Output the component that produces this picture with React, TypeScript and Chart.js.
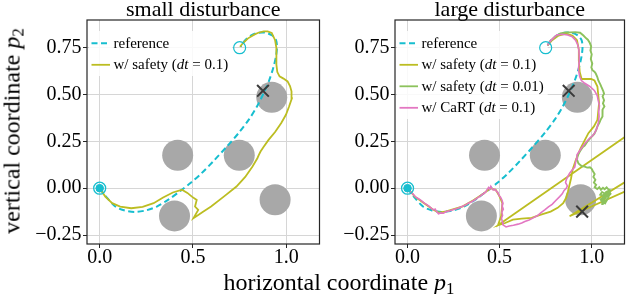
import React, { useEffect, useRef } from "react";
import { Chart, registerables } from "chart.js";

Chart.register(...registerables);

const FONT = "'Liberation Serif', 'Times New Roman', Times, serif";

// ---- axes ----
const X_MIN = -0.068;
const X_MAX = 1.178;
const Y_MIN = -0.298;
const Y_MAX = 0.898;
const X_TICKS = [0, 0.5, 1];
const X_TICK_LABELS = ["0.0", "0.5", "1.0"];
const Y_TICKS = [-0.25, 0, 0.25, 0.5, 0.75];
const Y_TICK_LABELS = ["\u22120.25", "0.00", "0.25", "0.50", "0.75"];

const TITLE_SMALL = "small disturbance";
const TITLE_LARGE = "large disturbance";
const X_LABEL = "horizontal coordinate";
const Y_LABEL = "vertical coordinate";

const LABEL_REF = "reference";
const LABEL_SAFE_01 = "w/ safety (dt = 0.1)";
const LABEL_SAFE_001 = "w/ safety (dt = 0.01)";
const LABEL_CART = "w/ CaRT (dt = 0.1)";

// ---- scene ----
const OBSTACLE_X = [0.418, 0.748, 0.922, 0.401, 0.94];
const OBSTACLE_Y = [0.176, 0.176, 0.485, -0.148, -0.062];
const START_X = [0];
const START_Y = [0];
const GOAL_X = [0.75];
const GOAL_Y = [0.75];
const SMALL_CRASH_X = [0.875];
const SMALL_CRASH_Y = [0.52];
const LARGE_CRASH_X = [0.875, 0.948];
const LARGE_CRASH_Y = [0.52, -0.125];

// ---- reference trajectory ----
const REF_X = [0, 0.03, 0.084, 0.13, 0.187, 0.25, 0.306, 0.37, 0.434, 0.49, 0.546, 0.61, 0.682, 0.745, 0.802, 0.845, 0.879, 0.908, 0.93, 0.944, 0.95, 0.945, 0.925, 0.89, 0.85, 0.81, 0.78, 0.755];
const REF_Y = [0, -0.04, -0.098, -0.118, -0.127, -0.118, -0.098, -0.06, -0.013, 0.03, 0.08, 0.145, 0.223, 0.295, 0.37, 0.44, 0.508, 0.575, 0.642, 0.7, 0.75, 0.79, 0.815, 0.83, 0.83, 0.815, 0.79, 0.755];

// ---- small disturbance: w/ safety (dt = 0.1) ----
const SMALL_SAFE_X = [0, 0.03, 0.067, 0.11, 0.169, 0.23, 0.289, 0.34, 0.392, 0.434, 0.443, 0.47, 0.494, 0.52, 0.511, 0.528, 0.503, 0.55, 0.597, 0.665, 0.733, 0.78, 0.819, 0.845, 0.853, 0.862, 0.878, 0.905, 0.94, 0.973, 0.998, 1.015, 1.03, 1.028, 1.02, 1.007, 0.985, 0.964, 0.952, 0.947, 0.947, 0.94, 0.922, 0.9, 0.879, 0.85, 0.828, 0.795, 0.768, 0.752];
const SMALL_SAFE_Y = [0, -0.045, -0.08, -0.098, -0.107, -0.1, -0.08, -0.05, -0.023, -0.011, -0.009, -0.025, -0.045, -0.063, -0.098, -0.116, -0.16, -0.128, -0.098, -0.045, 0.009, 0.06, 0.116, 0.16, 0.178, 0.196, 0.22, 0.258, 0.3, 0.348, 0.392, 0.436, 0.48, 0.517, 0.545, 0.57, 0.585, 0.597, 0.62, 0.66, 0.749, 0.79, 0.829, 0.837, 0.837, 0.83, 0.82, 0.8, 0.775, 0.755];

// ---- large disturbance: w/ safety (dt = 0.1) ----
const LARGE_SAFE_01_X = [0, 0.04, 0.09, 0.14, 0.17, 0.21, 0.3, 0.36, 0.415, 0.45, 0.48, 0.5, 0.515, 0.508, 0.491, 1.3, 1.3, 0.88, 1.3, 1.3, 0.491, 0.53, 0.572, 0.62, 0.674, 0.72, 0.777, 0.815, 0.845, 0.862, 0.871, 0.888, 0.896, 0.914, 0.94, 0.982, 1.012, 1.031, 1.04, 1.031, 1.015, 0.997, 0.945, 0.935, 0.93, 0.93, 0.92, 0.895, 0.86, 0.82, 0.785, 0.76];
const LARGE_SAFE_01_Y = [0, -0.045, -0.08, -0.115, -0.13, -0.124, -0.097, -0.063, -0.027, 0, -0.01, -0.045, -0.08, -0.15, -0.198, 0.355, 0.105, -0.15, 0.035, 0.355, -0.198, -0.186, -0.168, -0.162, -0.158, -0.142, -0.125, -0.105, -0.08, -0.05, -0.018, 0.053, 0.098, 0.151, 0.214, 0.294, 0.33, 0.365, 0.455, 0.543, 0.575, 0.583, 0.583, 0.62, 0.68, 0.74, 0.79, 0.815, 0.825, 0.815, 0.79, 0.762];

// ---- large disturbance: w/ safety (dt = 0.01) ----
const LARGE_SAFE_001_X = [0.76, 0.775, 0.8, 0.83, 0.86, 0.885, 0.91, 0.937, 0.955, 0.97, 0.979, 0.99, 0.997, 0.993, 1.0, 0.995, 1.003, 0.998, 1.004, 1.015, 1.022, 1.03, 1.036, 1.048, 1.055, 1.062, 1.067, 1.059, 1.067, 1.061, 1.069, 1.059, 1.057, 1.06, 1.048, 1.042, 1.031, 1.024, 1.014, 1.003, 0.99, 0.976, 0.962, 0.95, 0.938, 0.93, 0.923, 0.92, 0.928, 0.945, 0.962, 0.975, 0.99, 0.999, 1.006, 1.016, 1.009, 1.02, 1.012, 1.024, 1.016, 1.03, 1.041, 1.05, 1.061, 1.07, 1.081, 1.09, 1.1, 1.091, 1.102, 1.089, 1.081, 1.076, 1.064, 1.074, 1.06, 1.057, 1.048, 1.063, 1.072, 1.056, 1.046, 1.061, 1.078, 1.088, 1.079, 1.066, 1.055, 1.07, 1.085, 1.095, 1.083, 1.068, 1.058, 1.073, 1.09, 1.097, 1.08, 1.064, 1.07, 1.086];
const LARGE_SAFE_001_Y = [0.762, 0.785, 0.808, 0.826, 0.832, 0.832, 0.833, 0.83, 0.815, 0.8, 0.793, 0.775, 0.757, 0.735, 0.715, 0.69, 0.665, 0.645, 0.63, 0.622, 0.612, 0.595, 0.575, 0.552, 0.535, 0.52, 0.505, 0.49, 0.47, 0.452, 0.436, 0.42, 0.4, 0.383, 0.365, 0.35, 0.33, 0.31, 0.29, 0.278, 0.265, 0.248, 0.228, 0.218, 0.2, 0.187, 0.17, 0.152, 0.132, 0.118, 0.115, 0.11, 0.112, 0.105, 0.092, 0.075, 0.06, 0.045, 0.03, 0.018, 0.005, -0.005, 0.005, -0.008, 0.002, -0.006, 0.004, -0.006, -0.01, -0.022, -0.03, -0.045, -0.035, -0.052, -0.062, -0.075, -0.085, -0.072, -0.06, -0.048, -0.03, -0.02, -0.035, -0.04, -0.02, -0.015, -0.045, -0.055, -0.07, -0.078, -0.06, -0.035, -0.025, -0.05, -0.066, -0.08, -0.05, -0.028, -0.04, -0.065, -0.058, -0.03];

// ---- large disturbance: w/ CaRT (dt = 0.1) ----
const LARGE_CART_X = [0, 0.015, 0.03, 0.045, 0.06, 0.075, 0.091, 0.105, 0.118, 0.13, 0.142, 0.15, 0.158, 0.168, 0.18, 0.195, 0.21, 0.23, 0.25, 0.27, 0.296, 0.315, 0.33, 0.348, 0.364, 0.38, 0.398, 0.415, 0.425, 0.432, 0.44, 0.446, 0.452, 0.458, 0.465, 0.475, 0.482, 0.49, 0.497, 0.505, 0.512, 0.518, 0.514, 0.52, 0.512, 0.516, 0.51, 0.515, 0.518, 0.535, 0.552, 0.575, 0.6, 0.62, 0.637, 0.66, 0.68, 0.706, 0.725, 0.745, 0.765, 0.785, 0.805, 0.826, 0.84, 0.85, 0.862, 0.868, 0.858, 0.862, 0.872, 0.88, 0.895, 0.908, 0.912, 0.916, 0.92, 0.932, 0.945, 0.96, 0.975, 0.99, 1.005, 1.018, 1.03, 1.036, 1.04, 1.038, 1.042, 1.035, 1.03, 1.014, 0.99, 0.962, 0.944, 0.935, 0.928, 0.931, 0.932, 0.93, 0.924, 0.912, 0.895, 0.87, 0.84, 0.81, 0.79, 0.774, 0.76];
const LARGE_CART_Y = [0, -0.018, -0.032, -0.048, -0.056, -0.066, -0.08, -0.088, -0.097, -0.108, -0.116, -0.112, -0.125, -0.137, -0.132, -0.134, -0.125, -0.121, -0.114, -0.108, -0.098, -0.09, -0.08, -0.072, -0.063, -0.052, -0.04, -0.027, -0.02, -0.008, 0.004, -0.006, 0.01, 0, -0.01, -0.006, -0.016, -0.022, -0.04, -0.048, -0.062, -0.08, -0.095, -0.112, -0.128, -0.145, -0.16, -0.18, -0.196, -0.207, -0.202, -0.198, -0.192, -0.186, -0.178, -0.17, -0.16, -0.146, -0.13, -0.116, -0.1, -0.086, -0.066, -0.045, -0.03, -0.012, 0, 0.012, 0.03, 0.046, 0.066, 0.08, 0.098, 0.112, 0.135, 0.155, 0.178, 0.196, 0.215, 0.235, 0.252, 0.268, 0.28, 0.298, 0.325, 0.35, 0.383, 0.41, 0.44, 0.47, 0.495, 0.522, 0.543, 0.56, 0.575, 0.595, 0.633, 0.67, 0.705, 0.74, 0.766, 0.79, 0.808, 0.818, 0.822, 0.818, 0.8, 0.784, 0.762];

// ---- colours ----
const CYAN = "#17becf";
const OLIVE = "#bcbd22";
const GREEN = "#8cc25c";
const PINK = "#e377c2";
const OBSTACLE_COLOR = "#a8a8a8";
const CROSS_COLOR = "#3a3a3a";
const GRID_COLOR = "#d6d6d6";
const SPINE_COLOR = "#262626";

const pts = (xs: number[], ys: number[]) => xs.map((x, i) => ({ x, y: ys[i] }));

function drawRich(ctx: CanvasRenderingContext2D, text: string, x: number, y: number, size: number) {
  const parts = text.split(/(dt)/);
  let cx = x;
  ctx.textAlign = "left";
  ctx.textBaseline = "middle";
  ctx.fillStyle = "#000";
  for (const p of parts) {
    if (!p) continue;
    ctx.font = (p === "dt" ? "italic " : "") + size + "px " + FONT;
    ctx.fillText(p, cx, y);
    cx += ctx.measureText(p).width;
  }
  return cx - x;
}

function measureRich(ctx: CanvasRenderingContext2D, text: string, size: number) {
  const parts = text.split(/(dt)/);
  let w = 0;
  for (const p of parts) {
    if (!p) continue;
    ctx.font = (p === "dt" ? "italic " : "") + size + "px " + FONT;
    w += ctx.measureText(p).width;
  }
  return w;
}

type LegendItem = { label: string; color: string; width: number; dash?: number[] };

const LEGEND_SIZE = 15;

function makeDecor(title: string, legend: LegendItem[]) {
  return {
    id: "decor",
    beforeDatasetsDraw(chart: any) {
      // legend background: hides grid lines, stays under the data
      const ctx: CanvasRenderingContext2D = chart.ctx;
      const ca = chart.chartArea;
      ctx.save();
      let maxW = 0;
      legend.forEach((it) => (maxW = Math.max(maxW, measureRich(ctx, it.label, LEGEND_SIZE))));
      ctx.fillStyle = "rgba(255,255,255,0.85)";
      ctx.fillRect(ca.left + 2, ca.top + 11, 26.5 + maxW + 2, legend.length * 21.5 + 2);
      ctx.restore();
    },
    afterDraw(chart: any) {
      const ctx: CanvasRenderingContext2D = chart.ctx;
      const ca = chart.chartArea;
      ctx.save();
      legend.forEach((it, i) => {
        const y = ca.top + 23.3 + i * 21.5;
        ctx.strokeStyle = it.color;
        ctx.lineWidth = it.width;
        ctx.setLineDash(it.dash || []);
        ctx.beginPath();
        ctx.moveTo(ca.left + 4.5, y);
        ctx.lineTo(ca.left + 23, y);
        ctx.stroke();
        ctx.setLineDash([]);
        drawRich(ctx, it.label, ca.left + 26.5, y + 0.5, LEGEND_SIZE);
      });
      // spines
      ctx.strokeStyle = SPINE_COLOR;
      ctx.lineWidth = 1.2;
      ctx.strokeRect(ca.left, ca.top, ca.right - ca.left, ca.bottom - ca.top);
      // title
      ctx.fillStyle = "#000";
      ctx.font = "22px " + FONT;
      ctx.textAlign = "center";
      ctx.textBaseline = "alphabetic";
      ctx.fillText(title, (ca.left + ca.right) / 2, 15.5);
      ctx.restore();
    },
  };
}

function lineDs(label: string, xs: number[], ys: number[], color: string, width: number, order: number, extra: any = {}) {
  return {
    label,
    data: pts(xs, ys),
    showLine: true,
    borderColor: color,
    backgroundColor: color,
    borderWidth: width,
    pointRadius: 0,
    pointHoverRadius: 0,
    tension: 0,
    order,
    ...extra,
  };
}

function markerDatasets(crashX: number[], crashY: number[]) {
  return [
    {
      label: "crash",
      data: pts(crashX, crashY),
      pointStyle: "crossRot",
      pointRadius: 8.3,
      borderColor: CROSS_COLOR,
      backgroundColor: CROSS_COLOR,
      borderWidth: 2,
      showLine: false,
      order: 0,
    },
    {
      label: "goal",
      data: pts(GOAL_X, GOAL_Y),
      pointStyle: "circle",
      pointRadius: 6,
      borderColor: CYAN,
      backgroundColor: "rgba(0,0,0,0)",
      borderWidth: 1.2,
      showLine: false,
      order: 1,
    },
    {
      label: "start ring",
      data: pts(START_X, START_Y),
      pointStyle: "circle",
      pointRadius: 6,
      borderColor: CYAN,
      backgroundColor: "rgba(0,0,0,0)",
      borderWidth: 1.3,
      showLine: false,
      order: 1,
    },
    {
      label: "start",
      data: pts(START_X, START_Y),
      pointStyle: "circle",
      pointRadius: 3.8,
      borderColor: CYAN,
      backgroundColor: CYAN,
      borderWidth: 1,
      showLine: false,
      order: 1,
    },
    {
      label: "obstacles",
      data: pts(OBSTACLE_X, OBSTACLE_Y),
      pointStyle: "circle",
      pointRadius: 15.5,
      borderWidth: 0,
      borderColor: OBSTACLE_COLOR,
      backgroundColor: OBSTACLE_COLOR,
      showLine: false,
      order: 20,
    },
  ];
}

function makeConfig(datasets: any[], padRight: number, yWidth: number, title: string, legend: LegendItem[]) {
  const tickFont = { family: FONT, size: 20, lineHeight: 1 };
  return {
    type: "scatter",
    data: { datasets },
    options: {
      animation: false,
      responsive: false,
      maintainAspectRatio: false,
      events: [],
      layout: { padding: { left: 0, right: padRight, top: 20, bottom: 0 } },
      plugins: { legend: { display: false }, tooltip: { enabled: false }, title: { display: false } },
      scales: {
        x: {
          type: "linear",
          min: X_MIN,
          max: X_MAX,
          afterBuildTicks: (s: any) => {
            s.ticks = X_TICKS.map((v) => ({ value: v }));
          },
          afterFit: (s: any) => {
            s.height = 50;
          },
          ticks: {
            callback: (v: number) => X_TICK_LABELS[X_TICKS.indexOf(v)],
            font: tickFont,
            color: "#000",
            padding: 0,
            maxRotation: 0,
            autoSkip: false,
          },
          grid: { color: GRID_COLOR, lineWidth: 1, tickColor: SPINE_COLOR, tickLength: 4, tickWidth: 1 },
          border: { display: false },
        },
        y: {
          type: "linear",
          min: Y_MIN,
          max: Y_MAX,
          afterBuildTicks: (s: any) => {
            s.ticks = Y_TICKS.map((v) => ({ value: v }));
          },
          afterFit: (s: any) => {
            s.width = yWidth;
          },
          ticks: {
            callback: (v: number) => Y_TICK_LABELS[Y_TICKS.indexOf(v)],
            font: tickFont,
            color: "#000",
            padding: 1.5,
            autoSkip: false,
          },
          grid: { color: GRID_COLOR, lineWidth: 1, tickColor: SPINE_COLOR, tickLength: 4, tickWidth: 1 },
          border: { display: false },
        },
      },
    },
    plugins: [makeDecor(title, legend)],
  } as any;
}

export default function App() {
  const c1 = useRef<HTMLCanvasElement>(null);
  const c2 = useRef<HTMLCanvasElement>(null);

  useEffect(() => {
    const refDash = [6, 3.5];
    const smallSets = [
      ...markerDatasets(SMALL_CRASH_X, SMALL_CRASH_Y),
      lineDs(LABEL_SAFE_01, SMALL_SAFE_X, SMALL_SAFE_Y, OLIVE, 1.8, 3),
      lineDs(LABEL_REF, REF_X, REF_Y, CYAN, 2, 4, { borderDash: refDash, tension: 0.3 }),
    ];
    const largeSets = [
      ...markerDatasets(LARGE_CRASH_X, LARGE_CRASH_Y),
      lineDs(LABEL_CART, LARGE_CART_X, LARGE_CART_Y, PINK, 1.6, 2),
      lineDs(LABEL_SAFE_001, LARGE_SAFE_001_X, LARGE_SAFE_001_Y, GREEN, 1.9, 2.5),
      lineDs(LABEL_SAFE_01, LARGE_SAFE_01_X, LARGE_SAFE_01_Y, OLIVE, 1.8, 3),
      lineDs(LABEL_REF, REF_X, REF_Y, CYAN, 2, 4, { borderDash: refDash, tension: 0.3 }),
    ];
    const smallLegend: LegendItem[] = [
      { label: LABEL_REF, color: CYAN, width: 2, dash: refDash },
      { label: LABEL_SAFE_01, color: OLIVE, width: 1.8 },
    ];
    const largeLegend: LegendItem[] = [
      { label: LABEL_REF, color: CYAN, width: 2, dash: refDash },
      { label: LABEL_SAFE_01, color: OLIVE, width: 1.8 },
      { label: LABEL_SAFE_001, color: GREEN, width: 1.8 },
      { label: LABEL_CART, color: PINK, width: 1.8 },
    ];
    const ch1 = new Chart(c1.current as HTMLCanvasElement, makeConfig(smallSets, 5, 87, TITLE_SMALL, smallLegend));
    const ch2 = new Chart(c2.current as HTMLCanvasElement, makeConfig(largeSets, 2, 60, TITLE_LARGE, largeLegend));
    return () => {
      ch1.destroy();
      ch2.destroy();
    };
  }, []);

  const labelStyle: React.CSSProperties = {
    position: "absolute",
    fontFamily: FONT,
    fontSize: 24,
    lineHeight: "24px",
    whiteSpace: "nowrap",
    color: "#000",
  };
  const subStyle: React.CSSProperties = { fontSize: "0.7em", position: "relative", top: "0.25em" };

  return (
    <div style={{ position: "absolute", left: 0, top: 0, width: 640, height: 294, background: "#fff", overflow: "hidden" }}>
      <canvas ref={c1} width={335} height={294} style={{ position: "absolute", left: 0, top: 0, width: 335, height: 294 }} />
      <canvas ref={c2} width={305} height={294} style={{ position: "absolute", left: 335, top: 0, width: 305, height: 294 }} />
      <div style={{ ...labelStyle, left: 339, top: 269.9, transform: "translateX(-50%)" }}>
        {X_LABEL} <i>p</i>
        <span style={subStyle}>1</span>
      </div>
      <div style={{ ...labelStyle, left: 12.9, top: 131, transform: "translate(-50%, -50%) rotate(-90deg)" }}>
        {Y_LABEL} <i>p</i>
        <span style={subStyle}>2</span>
      </div>
    </div>
  );
}
